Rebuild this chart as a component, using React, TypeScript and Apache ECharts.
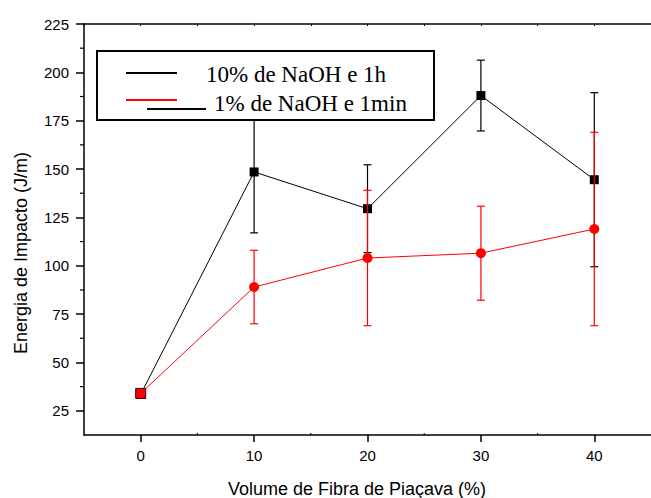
import React, { useEffect, useRef } from "react";
import * as echarts from "echarts";

const xValues = [0, 10, 20, 30, 40];
const naoh10Values = [33.5, 148.5, 129.5, 188, 144.5];
const naoh10Errors = [0, 31.5, 22.7, 18.3, 45];
const naoh1Values = [34, 89, 104, 106.5, 119];
const naoh1Errors = [0, 19, 35, 24.3, 50];

const xTickValues = [0, 10, 20, 30, 40];
const xMinorTickValues = [5, 15, 25, 35];
const yTickValues = [25, 50, 75, 100, 125, 150, 175, 200, 225];
const yMinorTickValues = [37.5, 62.5, 87.5, 112.5, 137.5, 162.5, 187.5, 212.5];

const legendLabels = ["10% de NaOH e 1h", "1% de NaOH e 1min"];
const xAxisTitle = "Volume de Fibra de Piaçava (%)";
const yAxisTitle = "Energia de Impacto (J/m)";

const SANS = "'Liberation Sans', Arial, sans-serif";
const SERIF = "'Liberation Serif', 'Times New Roman', serif";

const X_MIN = -5;
const X_MAX = 45;
const Y_MIN = 12.5;
const Y_MAX = 225;

function errorBarSeries(values: number[], errors: number[], color: string, z: number) {
  return {
    type: "custom",
    z,
    silent: true,
    encode: { x: 0, y: 1 },
    data: xValues.map((x, i) => [x, values[i], errors[i]]),
    renderItem: (params: any, api: any) => {
      const x = api.value(0);
      const y = api.value(1);
      const e = api.value(2);
      if (!e) return { type: "group", children: [] };
      const top = api.coord([x, y + e]);
      const bot = api.coord([x, y - e]);
      const w = 4;
      const style = { stroke: color, lineWidth: 1.2 };
      return {
        type: "group",
        children: [
          { type: "line", shape: { x1: top[0], y1: top[1], x2: bot[0], y2: bot[1] }, style },
          { type: "line", shape: { x1: top[0] - w, y1: top[1], x2: top[0] + w, y2: top[1] }, style },
          { type: "line", shape: { x1: bot[0] - w, y1: bot[1], x2: bot[0] + w, y2: bot[1] }, style },
        ],
      };
    },
  };
}

export default function App() {
  const ref = useRef<HTMLDivElement>(null);

  useEffect(() => {
    if (!ref.current) return;
    const chart = echarts.init(ref.current, null, { renderer: "svg" });

    const option: any = {
      animation: false,
      backgroundColor: "#ffffff",
      grid: { left: 84, top: 24, right: -9, bottom: 63, containLabel: false },
      xAxis: [
        {
          type: "value",
          position: "bottom",
          min: X_MIN,
          max: X_MAX,
          axisLine: { show: true, onZero: false, lineStyle: { color: "#000", width: 1.5 } },
          axisTick: {
            show: true,
            customValues: xTickValues,
            length: 7,
            inside: false,
            lineStyle: { color: "#000", width: 1.5 },
          },
          axisLabel: {
            customValues: xTickValues,
            margin: 13,
            color: "#000",
            fontSize: 15,
            fontFamily: SANS,
          },
          splitLine: { show: false },
        },
        {
          type: "value",
          position: "top",
          min: X_MIN,
          max: X_MAX,
          interval: 5,
          axisLine: { show: true, onZero: false, lineStyle: { color: "#000", width: 1.5 } },
          axisTick: { show: true, inside: true, length: 2, lineStyle: { color: "#000", width: 1 } },
          axisLabel: { show: false },
          splitLine: { show: false },
        },
      ],
      yAxis: {
        type: "value",
        min: Y_MIN,
        max: Y_MAX,
        axisLine: { show: true, onZero: false, lineStyle: { color: "#000", width: 1.5 } },
        axisTick: {
          show: true,
          customValues: yTickValues,
          length: 8,
          inside: false,
          lineStyle: { color: "#000", width: 1.5 },
        },
        axisLabel: {
          customValues: yTickValues,
          margin: 15,
          color: "#000",
          fontSize: 15,
          fontFamily: SANS,
        },
        splitLine: { show: false },
      },
      series: [
        {
          type: "custom",
          silent: true,
          z: 1,
          data: yMinorTickValues.map((v) => [X_MIN, v]),
          encode: { x: 0, y: 1 },
          renderItem: (params: any, api: any) => {
            const p = api.coord([api.value(0), api.value(1)]);
            return {
              type: "line",
              shape: { x1: p[0] - 4, y1: p[1], x2: p[0], y2: p[1] },
              style: { stroke: "#000", lineWidth: 1.2 },
            };
          },
        },
        {
          type: "custom",
          silent: true,
          z: 1,
          data: xMinorTickValues.map((v) => [v, Y_MIN]),
          encode: { x: 0, y: 1 },
          renderItem: (params: any, api: any) => {
            const p = api.coord([api.value(0), api.value(1)]);
            return {
              type: "line",
              shape: { x1: p[0], y1: p[1] - 2, x2: p[0], y2: p[1] },
              style: { stroke: "#000", lineWidth: 1 },
            };
          },
        },
        errorBarSeries(naoh10Values, naoh10Errors, "#000000", 2),
        {
          name: legendLabels[0],
          type: "line",
          z: 3,
          data: xValues.map((x, i) => [x, naoh10Values[i]]),
          symbol: "rect",
          symbolSize: 9,
          itemStyle: { color: "#000000" },
          lineStyle: { color: "#000000", width: 1 },
        },
        errorBarSeries(naoh1Values, naoh1Errors, "#ff0000", 4),
        {
          name: legendLabels[1],
          type: "line",
          z: 5,
          data: xValues.map((x, i) =>
            i === 0
              ? {
                  value: [x, naoh1Values[i]],
                  symbol: "rect",
                  symbolSize: 10,
                  itemStyle: { color: "#ff0000", borderColor: "#3a0000", borderWidth: 1 },
                }
              : [x, naoh1Values[i]]
          ),
          symbol: "circle",
          symbolSize: 10,
          itemStyle: { color: "#ff0000" },
          lineStyle: { color: "#ff0000", width: 1 },
        },
      ],
      graphic: [
        {
          type: "rect",
          z: 100,
          shape: { x: 97, y: 51, width: 337, height: 69 },
          style: { fill: "#ffffff", stroke: "#000000", lineWidth: 2 },
        },
        {
          type: "line",
          z: 101,
          shape: { x1: 126, y1: 73, x2: 177, y2: 73 },
          style: { stroke: "#000000", lineWidth: 2 },
        },
        {
          type: "line",
          z: 101,
          shape: { x1: 126, y1: 100, x2: 177, y2: 100 },
          style: { stroke: "#ff0000", lineWidth: 2 },
        },
        {
          type: "line",
          z: 101,
          shape: { x1: 147, y1: 109, x2: 206, y2: 109 },
          style: { stroke: "#000000", lineWidth: 2 },
        },
        {
          type: "text",
          z: 101,
          x: 206,
          y: 74,
          style: {
            text: legendLabels[0],
            font: `23px ${SERIF}`,
            fill: "#000",
            textAlign: "left",
            textVerticalAlign: "middle",
          },
        },
        {
          type: "text",
          z: 101,
          x: 214,
          y: 103,
          style: {
            text: legendLabels[1],
            font: `23px ${SERIF}`,
            fill: "#000",
            textAlign: "left",
            textVerticalAlign: "middle",
          },
        },
        {
          type: "text",
          z: 101,
          x: 357,
          y: 489,
          style: {
            text: xAxisTitle,
            font: `18px ${SANS}`,
            fill: "#000",
            textAlign: "center",
            textVerticalAlign: "middle",
          },
        },
        {
          type: "text",
          z: 101,
          x: 21,
          y: 253,
          rotation: Math.PI / 2,
          style: {
            text: yAxisTitle,
            font: `18px ${SANS}`,
            fill: "#000",
            textAlign: "center",
            textVerticalAlign: "middle",
          },
        },
      ],
    };

    chart.setOption(option);
    return () => chart.dispose();
  }, []);

  return (
    <div
      ref={ref}
      style={{ position: "fixed", left: 0, top: 0, width: 651, height: 498, background: "#fff" }}
    />
  );
}
